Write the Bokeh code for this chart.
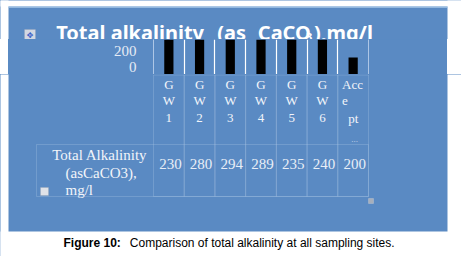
from bokeh.plotting import figure
from bokeh.layouts import column, row
from bokeh.models import (Range1d, FixedTicker, LinearAxis, Grid, Label,
                          BoxAnnotation, ColumnDataSource, Spacer)
from bokeh.core.properties import value
from bokeh.embed import file_html
from bokeh.resources import INLINE

# ---- data ----
sites = ["GW1", "GW2", "GW3", "GW4", "GW5", "GW6", "Accept"]
site_lines = [["G", "W", "1"], ["G", "W", "2"], ["G", "W", "3"], ["G", "W", "4"],
              ["G", "W", "5"], ["G", "W", "6"], ["Acc", "e", "pt"]]
alkalinity = [230, 280, 294, 289, 235, 240, 200]
value_labels = ["230", "280", "294", "289", "235", "240", "200"]
ytick_values = [185, 211]
ytick_labels = {185: "0", 211: "200"}
row_header = ["Total Alkalinity", "(asCaCO3),", "mg/l"]
title_parts = ["Total alkalinity", "(as", "CaCO", "3", "),mg/l"]
caption_bold = "Figure 10:"
caption_text = "Comparison of total alkalinity at all sampling sites."

BLUE = "#5a8ac3"
TXT = "#f2f5fa"
TABLE = "#adc6e6"
SERIF = "Liberation Serif"

W, H = 461, 256
PL, PR, PT, PB = 8, 447, 7.3, 231      # blue panel
FL, FR, FT, FB = 153, 368, 39, 74      # bar plot area
n = len(sites)
colw = (FR - FL) / n
BGSTYLE = {"background-color": BLUE}


def base_fig(w, h, y0, y1):
    f = figure(width=w, height=h, x_range=Range1d(0, w), y_range=Range1d(y1, y0),
               x_axis_type=None, y_axis_type=None, min_border=0,
               output_backend="svg", toolbar_location=None, styles=BGSTYLE)
    f.outline_line_color = None
    f.background_fill_color = BLUE
    f.border_fill_color = BLUE
    f.xgrid.visible = False
    f.ygrid.visible = False
    # white page outside the blue panel
    f.add_layout(BoxAnnotation(left=-5, right=PL, top=y0 - 5, bottom=y1 + 5,
                               fill_color="white", fill_alpha=1, line_color=None))
    f.add_layout(BoxAnnotation(left=PR, right=w + 5, top=y0 - 5, bottom=y1 + 5,
                               fill_color="white", fill_alpha=1, line_color=None))
    return f


# ---------- top part (title) ----------
top = base_fig(W, FT, 0, FT)
top.add_layout(BoxAnnotation(left=-5, right=W + 5, top=-5, bottom=6, fill_color="white",
                             fill_alpha=1, line_color=None))
top.add_layout(BoxAnnotation(left=PL, right=PR, top=6, bottom=PT, fill_color="#a9c9ea",
                             fill_alpha=1, line_color=None))
tx = [55.7, 216.7, 257.3, 305.5, 313.5]
ty = [32, 32, 32, 36.5, 32]
for i, t in enumerate(title_parts):
    sub = (i == 3)
    top.add_layout(Label(x=tx[i], y=ty[i], text=t,
                         text_font="Noto Sans", text_font_style="bold",
                         text_font_size="11px" if sub else "20px", text_color="white",
                         text_baseline="middle", text_align="left"))
top.add_layout(BoxAnnotation(left=24, right=35, top=29, bottom=39.5, fill_color="#d3d8e2",
                             fill_alpha=1, line_color="#8d9bb2"))
top.add_layout(Label(x=29.5, y=34.5, text="✥", text_font="DejaVu Sans", text_font_size="8px",
                     text_color="#3a5cc8", text_align="center", text_baseline="middle"))

# ---------- middle part (bars) ----------
mw = PR - PL
mid = figure(width=mw, height=FB - FT, x_range=Range1d(0, n), y_range=Range1d(172, 230),
             x_axis_type=None, y_axis_type=None, min_border_left=FL - PL,
             min_border_right=PR - FR, min_border_top=0, min_border_bottom=0,
             output_backend="svg", toolbar_location=None, styles=BGSTYLE)
mid.outline_line_color = None
mid.background_fill_color = BLUE
mid.border_fill_color = BLUE
src = ColumnDataSource(dict(x=[i + 0.5 for i in range(n)], top=alkalinity))
mid.vbar(x="x", top="top", bottom=0, width=0.3, source=src, fill_color="black",
         line_color=None)
mid.add_layout(Grid(dimension=0, ticker=FixedTicker(ticks=list(range(1, n))),
                    grid_line_color="white", grid_line_width=1.2))
yax = LinearAxis(ticker=FixedTicker(ticks=ytick_values), major_label_overrides=ytick_labels,
                 axis_line_color=TABLE, major_tick_line_color=None, minor_tick_line_color=None,
                 major_label_standoff=11, major_label_text_font=SERIF,
                 major_label_text_font_size="15px", major_label_text_color="#e6ecf5")
mid.add_layout(yax, "left")
rax = LinearAxis(ticker=FixedTicker(ticks=[]), axis_line_color=TABLE,
                 major_tick_line_color=None, minor_tick_line_color=None,
                 major_label_text_font_size="0px")
mid.add_layout(rax, "right")
middle = row(Spacer(width=PL, height=FB - FT), mid, Spacer(width=W - PR, height=FB - FT))

# ---------- bottom part (table + caption) ----------
bot = base_fig(W, H - FB, FB, H)
bot.extra_x_ranges = {"cat": Range1d(-FL / colw, (W - FL) / colw)}
for i in range(n):
    bot.add_layout(BoxAnnotation(left=i, right=i + 1, top=FB + 0.5, bottom=196,
                                 x_range_name="cat", fill_alpha=0, line_color=TABLE,
                                 line_width=1))
bot.add_layout(BoxAnnotation(left=36, right=FR, top=144, bottom=196, fill_alpha=0,
                             line_color=TABLE, line_width=1))

# category labels
mids = [84, 100.2, 117.6]
cx, cy, ct, ca = [], [], [], []
for i, lines in enumerate(site_lines):
    last = (i == n - 1)
    for j, t in enumerate(lines):
        if last:
            cx.append(i + [4.3, 4.3, 10.5][j] / colw)
            ca.append("left")
        else:
            cx.append(i + 0.5)
            ca.append("center")
        cy.append(mids[j])
        ct.append(t)
bot.text(x=cx, y=cy, text=ct, text_align=ca, x_range_name="cat",
         text_font=value(SERIF), text_font_size=value("13px"), text_color=TXT,
         text_baseline="middle")
bot.text(x=[n - 0.45], y=[138.5], text=["..."], x_range_name="cat", text_font=value(SERIF),
         text_font_size=value("9px"), text_color="#c9d6ea", text_align="center",
         text_baseline="middle")

# values row
bot.text(x=[i + 0.55 for i in range(n)], y=[163.5] * n, text=value_labels,
         x_range_name="cat", text_font=value(SERIF), text_font_size=value("15px"),
         text_color="#e8eef7", text_align="center", text_baseline="middle")

# row header
bot.text(x=[51.7, 65, 65], y=[154.3, 172.3, 189], text=row_header, text_font=value(SERIF),
         text_font_size=value("15px"), text_color=TXT, text_align="left",
         text_baseline="middle")

# small icons
bot.add_layout(BoxAnnotation(left=40, right=48, top=187, bottom=195, fill_color="#dfe2e8",
                             fill_alpha=1, line_color="#9aa3b0"))
bot.add_layout(BoxAnnotation(left=368, right=373, top=198, bottom=203, fill_color="#a7afbb",
                             fill_alpha=1, line_color="#d4d8df"))

# caption area (white) and caption
bot.add_layout(BoxAnnotation(left=-5, right=W + 5, top=PB, bottom=H + 5, fill_color="white",
                             fill_alpha=1, line_color=None))
bot.add_layout(Label(x=63, y=242, text=caption_bold, text_font="Liberation Sans",
                     text_font_style="bold", text_font_size="12px", text_color="black",
                     text_baseline="middle"))
bot.add_layout(Label(x=129.3, y=242, text=caption_text, text_font="Liberation Sans",
                     text_font_size="12px", text_color="black", text_baseline="middle"))

layout = column(top, middle, bot)
open("out.html", "w").write(file_html(layout, INLINE))
